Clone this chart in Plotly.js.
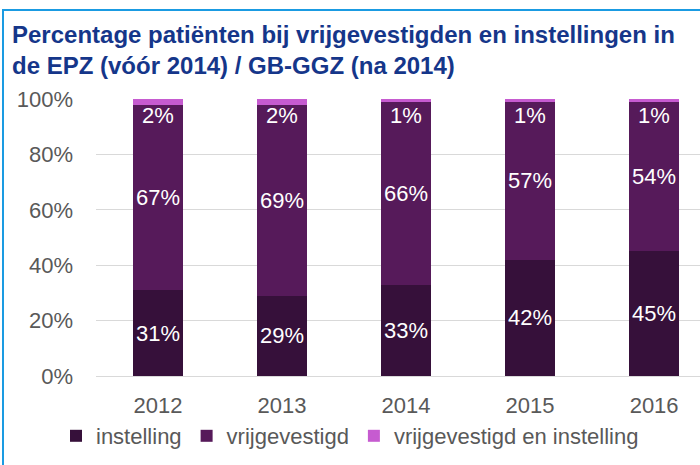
<!DOCTYPE html>
<html><head><meta charset="utf-8">
<script src="https://cdn.plot.ly/plotly-3.0.1.min.js"></script>
<style>
html,body{margin:0;padding:0;background:#fff;}
#wrap{position:relative;width:700px;height:465px;overflow:hidden;}
#chart{width:700px;height:465px;}
#frame{position:absolute;left:2px;top:9px;width:720px;height:480px;border-left:2px solid #1a9be2;border-top:2px solid #1a9be2;pointer-events:none;}
</style></head>
<body><div id="wrap"><div id="chart"></div><div id="frame"></div></div>
<script>
const years = ['2012','2013','2014','2015','2016'];
const instelling = [31, 29, 33, 42, 45];
const vrijgevestigd = [67, 69, 66, 57, 54];
const beide = [2, 2, 1, 1, 1];
const seriesNames = ['instelling','vrijgevestigd','vrijgevestigd en instelling'];
const colors = ['#36103a','#561a5a','#c65bd0'];
const yTicks = [0,20,40,60,80,100];

const FF = 'Liberation Sans, Arial, sans-serif';
const labelFont = {family:FF, size:22, color:'#ffffff'};
function mk(vals, i, showText){
  return {type:'bar', x:years, y:vals.map(v=>v/100), name:seriesNames[i],
    marker:{color:colors[i], line:{width:0}}, width:0.4,
    text: showText ? vals.map(v=>v+'%') : undefined,
    textposition: showText ? 'inside' : 'none', insidetextanchor:'middle', textangle:0,
    constraintext:'none',
    textfont:labelFont, hoverinfo:'none', cliponaxis:false};
}
const data = [mk(instelling,0,true), mk(vrijgevestigd,1,true), mk(beide,2,false)];
const annotations = years.map((yr,i)=>({x:i, y:(instelling[i]+vrijgevestigd[i]+beide[i])/100, xref:'x', yref:'y',
  text:beide[i]+'%', showarrow:false, yanchor:'top', yshift:-2, font:labelFont}));

const layout = {
  width:700, height:465, margin:{l:96, r:0, t:99, b:89},
  paper_bgcolor:'#ffffff', plot_bgcolor:'#ffffff', barmode:'stack',
  font:{family:FF, color:'#595959', size:22},
  title:{text:'Percentage patiënten bij vrijgevestigden en instellingen in<br>de EPZ (vóór 2014) / GB-GGZ (na 2014)',
    xref:'container', yref:'container', x:12/700, xanchor:'left', y:1-43/465, yanchor:'top',
    font:{family:'Liberation Sans Narrow, Liberation Sans, Arial, sans-serif', size:24, color:'#15368a', weight:'bold'}},
  xaxis:{type:'category', range:[-0.5,4.37], showgrid:false, zeroline:false, showline:false, ticks:'',
    tickfont:{size:22, color:'#595959'}, ticklabelstandoff:14},
  yaxis:{range:[0,1], tickvals:yTicks.map(v=>v/100), ticktext:yTicks.map(v=>v+'%'),
    showgrid:true, gridcolor:'#d9d9d9', gridwidth:1, zeroline:true, zerolinecolor:'#d9d9d9', showline:false, ticks:'',
    tickfont:{size:22, color:'#595959'}, ticklabelstandoff:22},
  showlegend:true,
  legend:{orientation:'h', xref:'container', yref:'container', x:0.5, xanchor:'center', y:1-415/465, yanchor:'top',
    font:{size:22, color:'#595959'}, itemwidth:30, traceorder:'normal'},
  annotations:annotations
};
Plotly.newPlot('chart', data, layout, {staticPlot:true, displayModeBar:false});
</script></body></html>
